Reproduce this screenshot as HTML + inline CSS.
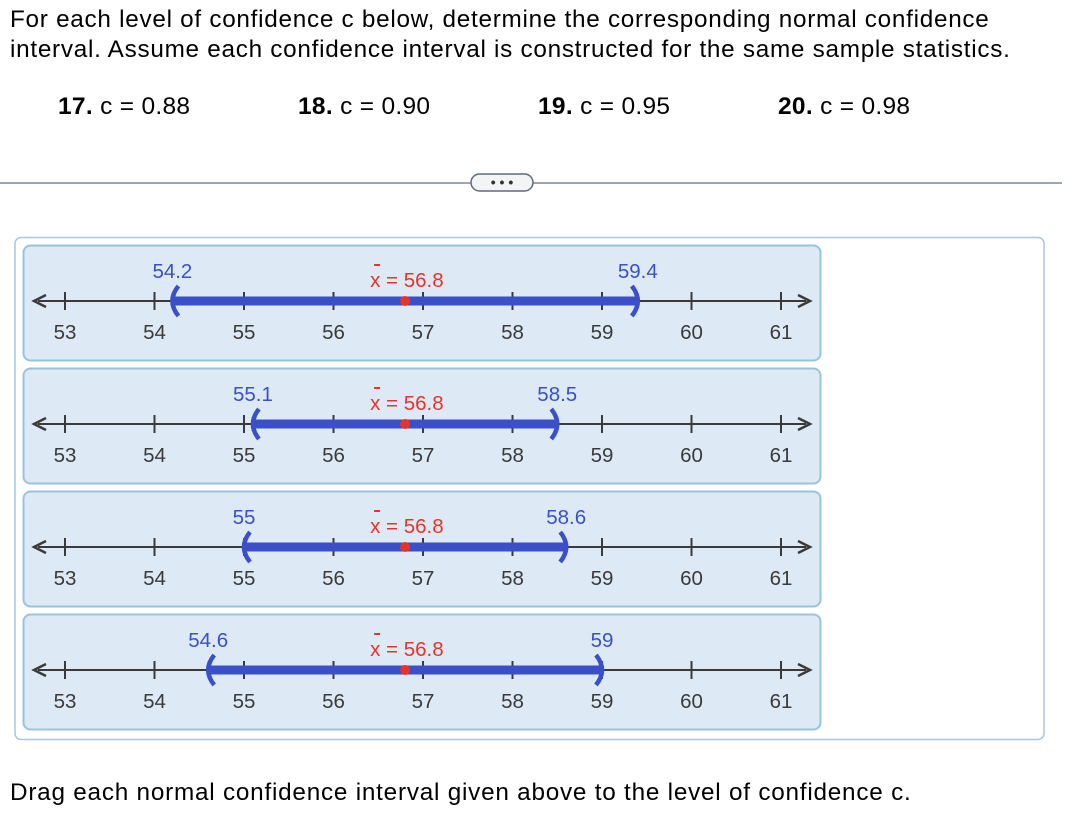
<!DOCTYPE html>
<html><head><meta charset="utf-8"><style>
body{margin:0;width:1074px;height:822px;background:#fff;font-family:"Liberation Sans",Arial,sans-serif;color:#000;position:relative;overflow:hidden}
.t{position:absolute;left:10px;top:5px;font-size:24.3px;letter-spacing:0.72px;line-height:30px}
.c{position:absolute;top:93px;font-size:24.5px;letter-spacing:0.3px}
.foot{position:absolute;left:10px;top:779px;font-size:24.3px;letter-spacing:0.77px}
</style></head><body>
<div class="t">For each level of confidence c below, determine the corresponding normal confidence<br>interval. Assume each confidence interval is constructed for the same sample statistics.</div>
<div class="c" style="left:58px"><b>17.</b> c = 0.88</div>
<div class="c" style="left:298px"><b>18.</b> c = 0.90</div>
<div class="c" style="left:538px"><b>19.</b> c = 0.95</div>
<div class="c" style="left:778px"><b>20.</b> c = 0.98</div>
<div class="foot">Drag each normal confidence interval given above to the level of confidence c.</div>
<svg id="s" width="1074" height="822" style="position:absolute;left:0;top:0" xmlns="http://www.w3.org/2000/svg">
<line x1="0" y1="183" x2="1062" y2="183" stroke="#7f8a94" stroke-width="1.5"/>
<rect x="471" y="174" width="62" height="17" rx="8.5" fill="#f2f4f6" stroke="#5f6b77" stroke-width="1.5"/>
<text x="502" y="187" text-anchor="middle" font-size="14" font-weight="bold" fill="#333" font-family="Liberation Sans">• • •</text>
<rect x="15" y="237.5" width="1029" height="502" rx="6" fill="#fff" stroke="#a9c7d8" stroke-width="1.5"/>
</svg>
<script>
const ticks=[53,54,55,56,57,58,59,60,61];
const lows=[54.2,55.1,55,54.6];
const highs=[59.4,58.5,58.6,59];
const mean=56.8;
const svg=document.getElementById('s');
const NS='http://www.w3.org/2000/svg';
const X=v=>65+(v-53)*89.5;
function mk(tag,attrs,parent){const e=document.createElementNS(NS,tag);for(const k in attrs)e.setAttribute(k,attrs[k]);(parent||svg).appendChild(e);return e;}
lows.forEach((lo,i)=>{
  const hi=highs[i];
  const g=mk('g',{});
  
  
  const top=245+i*123, y=top+56;
  mk('rect',{x:23.5,y:top+0.5,width:797,height:115,rx:7,fill:'#ddeaf5',stroke:'#98c4da','stroke-width':2},g);
  mk('line',{x1:38,y1:y,x2:806,y2:y,stroke:'#3a3a3a','stroke-width':2},g);
  mk('path',{d:`M46 ${y-6} L34 ${y} L46 ${y+6}`,fill:'none',stroke:'#3a3a3a','stroke-width':2.5},g);
  mk('path',{d:`M798 ${y-6} L810 ${y} L798 ${y+6}`,fill:'none',stroke:'#3a3a3a','stroke-width':2.5},g);
  ticks.forEach(t=>{
    mk('line',{x1:X(t),y1:y-9,x2:X(t),y2:y+9,stroke:'#3a3a3a','stroke-width':2},g);
    const tx=mk('text',{x:X(t),y:y+38,'text-anchor':'middle','font-size':20.5,fill:'#3a3a3a','font-family':'Liberation Sans'},g);
    tx.textContent=t;
  });
  const bar=mk('line',{x1:X(lo)+2,y1:y,x2:X(hi)-2,y2:y,stroke:'#3a4fc8','stroke-width':9},g);
  
  
  mk('path',{d:`M${X(lo)+6} ${y-15} Q${X(lo)-6} ${y} ${X(lo)+6} ${y+15}`,fill:'none',stroke:'#3a4fc8','stroke-width':4.5},g);
  mk('path',{d:`M${X(hi)-6} ${y-15} Q${X(hi)+6} ${y} ${X(hi)-6} ${y+15}`,fill:'none',stroke:'#3a4fc8','stroke-width':4.5},g);
  const dot=mk('circle',{cx:X(mean),cy:y,r:5,fill:'#e8332a'},g);
  
  
  const l1=mk('text',{x:X(lo),y:y-23,'text-anchor':'middle','font-size':20.5,fill:'#3a4fc8','font-family':'Liberation Sans'},g);
  l1.textContent=lo;
  const l2=mk('text',{x:X(hi),y:y-23,'text-anchor':'middle','font-size':20.5,fill:'#3a4fc8','font-family':'Liberation Sans'},g);
  l2.textContent=hi;
  const m=mk('text',{x:X(mean)-35,y:y-14,'font-size':20.5,fill:'#e8332a','font-family':'Liberation Sans'},g);
  m.textContent='x = '+mean;
  mk('line',{x1:X(mean)-31,y1:y-36,x2:X(mean)-25,y2:y-36,stroke:'#e8332a','stroke-width':2},g);
});
</script>
</body></html>
